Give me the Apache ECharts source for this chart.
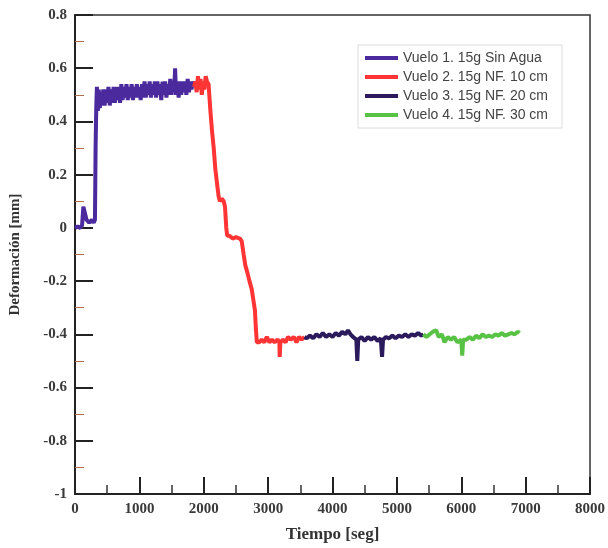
<!DOCTYPE html>
<html>
<head>
<meta charset="utf-8">
<script src="https://cdn.jsdelivr.net/npm/echarts@6/dist/echarts.min.js"></script>
<style>
  html, body { margin: 0; padding: 0; background: #fff; }
  #main { width: 608px; height: 548px; }
</style>
</head>
<body>
<div id="main"></div>
<script>
// series names
var seriesNames = ['Vuelo 1. 15g Sin Agua', 'Vuelo 2. 15g NF. 10 cm', 'Vuelo 3. 15g NF. 20 cm', 'Vuelo 4. 15g NF. 30 cm']
var seriesColors = ['#4b2a9e', '#ff3535', '#2b1a5c', '#58c244']

// [tiempo (seg), deformacion (mm)]
var vuelo1 = [
  [0, 0], [40, 0.005], [80, 0], [110, 0.01], [130, 0.08], [150, 0.06], [180, 0.03], [220, 0.02], [260, 0.03], [290, 0.02],
  [310, 0.03], [320, 0.3], [330, 0.45], [340, 0.53], [355, 0.44], [370, 0.52], [385, 0.45], [400, 0.51], [420, 0.46], [440, 0.52],
  [460, 0.46], [480, 0.52], [500, 0.47], [520, 0.53], [540, 0.46], [560, 0.52], [580, 0.47], [600, 0.53], [620, 0.47], [640, 0.53],
  [660, 0.48], [680, 0.53], [700, 0.47], [720, 0.54], [740, 0.48], [760, 0.53], [780, 0.49], [800, 0.54], [820, 0.48], [840, 0.53],
  [860, 0.49], [880, 0.54], [900, 0.48], [920, 0.53], [940, 0.49], [960, 0.54], [980, 0.49], [1000, 0.53], [1020, 0.48], [1040, 0.54],
  [1060, 0.49], [1080, 0.55], [1100, 0.49], [1120, 0.54], [1140, 0.5], [1160, 0.55], [1180, 0.49], [1200, 0.54], [1220, 0.5], [1240, 0.55],
  [1260, 0.49], [1280, 0.55], [1300, 0.5], [1320, 0.54], [1340, 0.48], [1360, 0.55], [1380, 0.5], [1400, 0.55], [1420, 0.49], [1440, 0.54],
  [1460, 0.5], [1480, 0.56], [1500, 0.5], [1520, 0.55], [1540, 0.51], [1555, 0.6], [1570, 0.5], [1590, 0.55], [1610, 0.49], [1630, 0.55],
  [1650, 0.5], [1670, 0.55], [1690, 0.51], [1710, 0.55], [1730, 0.5], [1750, 0.56], [1770, 0.51], [1790, 0.55], [1810, 0.52], [1830, 0.55],
  [1850, 0.53]
]
var vuelo2 = [
  [1850, 0.53], [1870, 0.55], [1890, 0.51], [1910, 0.57], [1930, 0.52], [1950, 0.56], [1970, 0.5], [1990, 0.55], [2010, 0.52], [2030, 0.57],
  [2050, 0.55], [2075, 0.54], [2100, 0.45], [2130, 0.36], [2155, 0.3], [2180, 0.22], [2205, 0.17], [2230, 0.12], [2250, 0.1], [2280, 0.11],
  [2310, 0.1], [2330, 0.08], [2350, 0.0], [2365, -0.03], [2400, -0.03], [2450, -0.04], [2500, -0.035], [2560, -0.04], [2590, -0.05], [2620, -0.1],
  [2645, -0.14], [2680, -0.17], [2710, -0.2], [2745, -0.23], [2770, -0.27], [2795, -0.31], [2810, -0.38], [2825, -0.43], [2860, -0.43], [2900, -0.42],
  [2940, -0.43], [2980, -0.41], [3020, -0.43], [3060, -0.42], [3100, -0.43], [3150, -0.42], [3175, -0.43], [3180, -0.485], [3190, -0.43], [3230, -0.42],
  [3270, -0.43], [3310, -0.41], [3350, -0.42], [3400, -0.41], [3440, -0.43], [3480, -0.41], [3520, -0.42], [3564, -0.41]
]
var vuelo3 = [
  [3564, -0.41], [3600, -0.415], [3650, -0.405], [3700, -0.415], [3750, -0.4], [3800, -0.41], [3850, -0.395], [3900, -0.41], [3950, -0.4], [4000, -0.41],
  [4050, -0.395], [4100, -0.405], [4150, -0.39], [4200, -0.4], [4240, -0.385], [4280, -0.4], [4320, -0.41], [4370, -0.42], [4385, -0.5], [4400, -0.42],
  [4450, -0.41], [4500, -0.425], [4550, -0.41], [4600, -0.42], [4650, -0.41], [4700, -0.425], [4750, -0.415], [4770, -0.485], [4785, -0.42], [4830, -0.41],
  [4880, -0.415], [4930, -0.405], [4980, -0.415], [5030, -0.405], [5080, -0.41], [5130, -0.4], [5180, -0.41], [5230, -0.4], [5280, -0.405], [5330, -0.395],
  [5380, -0.405], [5413, -0.4]
]
var vuelo4 = [
  [5413, -0.4], [5460, -0.41], [5510, -0.4], [5560, -0.39], [5610, -0.385], [5650, -0.41], [5700, -0.4], [5740, -0.43], [5790, -0.41], [5840, -0.42],
  [5890, -0.41], [5940, -0.43], [6000, -0.42], [6015, -0.48], [6030, -0.42], [6080, -0.42], [6130, -0.41], [6180, -0.42], [6230, -0.405], [6280, -0.415],
  [6330, -0.4], [6380, -0.41], [6430, -0.405], [6480, -0.41], [6530, -0.4], [6580, -0.405], [6630, -0.395], [6680, -0.405], [6730, -0.4], [6780, -0.395],
  [6830, -0.4], [6880, -0.39], [6905, -0.395]
]
var allData = [vuelo1, vuelo2, vuelo3, vuelo4]

var labelFont = { fontFamily: 'Liberation Serif', fontWeight: 'bold', fontSize: 15, color: '#3a3a3a' }

var mychart = echarts.init(document.getElementById('main'))
var series = []
for (let i = 0; i < allData.length; i++) {
  series.push({
    name: seriesNames[i],
    type: 'line',
    data: allData[i],
    color: seriesColors[i],
    showSymbol: false,
    lineStyle: { width: 4, color: seriesColors[i] },
    z: 2 + i
  })
}

var option = {
  animation: false,
  backgroundColor: '#fff',
  grid: {
    left: 72, right: 16, top: 15, bottom: 48,
    show: true, borderColor: '#333', borderWidth: 1.5
  },
  legend: {
    orient: 'vertical',
    left: 358, top: 45,
    padding: [6, 14, 6, 7],
    itemGap: 5,
    itemWidth: 33, itemHeight: 4,
    icon: 'rect',
    backgroundColor: '#fff',
    borderColor: '#dcdcdc', borderWidth: 1,
    textStyle: { fontFamily: 'Liberation Sans', fontSize: 14, color: '#444' },
    data: seriesNames
  },
  xAxis: {
    type: 'value',
    min: 0, max: 8000, interval: 1000,
    name: 'Tiempo [seg]',
    nameLocation: 'middle',
    nameGap: 32,
    nameTextStyle: { fontFamily: 'Liberation Serif', fontWeight: 'bold', fontSize: 17, color: '#333' },
    axisLine: { onZero: false, lineStyle: { color: '#222', width: 2 } },
    axisTick: { inside: true, length: 17, lineStyle: { color: '#222', width: 2 } },
    minorTick: { show: true, splitNumber: 2, length: 9, lineStyle: { color: '#333', width: 1.5 } },
    splitLine: { show: false },
    axisLabel: Object.assign({ margin: 8, formatter: v => String(v) }, labelFont)
  },
  yAxis: {
    type: 'value',
    min: -1, max: 0.8, interval: 0.2,
    name: 'Deformación [mm]',
    nameLocation: 'middle',
    nameGap: 52,
    nameTextStyle: { fontFamily: 'Liberation Serif', fontWeight: 'bold', fontSize: 15, color: '#333' },
    axisLine: { onZero: false, lineStyle: { color: '#222', width: 2 } },
    axisTick: { inside: true, length: 18, lineStyle: { color: '#222', width: 2 } },
    minorTick: { show: true, splitNumber: 2, length: 9, lineStyle: { color: '#b07050', width: 1 } },
    splitLine: { show: false },
    axisLabel: Object.assign({ margin: 8, formatter: v => String(Math.round(v * 10) / 10) }, labelFont)
  },
  series: series
}
mychart.setOption(option)
</script>
</body>
</html>
